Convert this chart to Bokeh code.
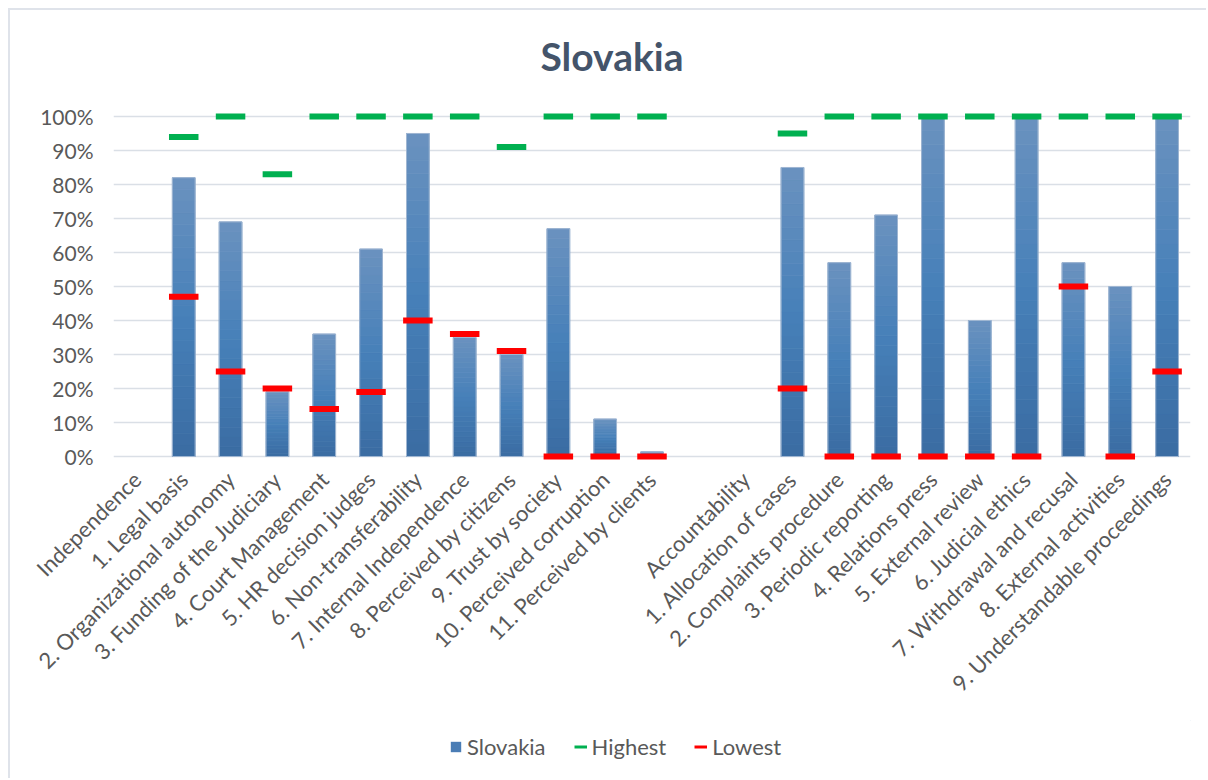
import math
from bokeh.plotting import figure
from bokeh.layouts import column
from bokeh.models import (FactorRange, Range1d, FixedTicker, PrintfTickFormatter,
                          Legend, LegendItem, ColumnDataSource, Label)
from bokeh.embed import file_html
from bokeh.resources import INLINE

title_text = "Slovakia"
categories = ["Independence", "1. Legal basis", "2. Organizational autonomy",
              "3. Funding of the Judiciary", "4. Court Management",
              "5. HR decision judges", "6. Non-transferability",
              "7. Internal Independence", "8. Perceived by citizens",
              "9. Trust by society", "10. Perceived corruption",
              "11. Perceived by clients", " ", "Accountability",
              "1. Allocation of cases", "2. Complaints procedure",
              "3. Periodic reporting", "4. Relations press", "5. External review",
              "6. Judicial ethics", "7. Withdrawal and recusal",
              "8. External activities", "9. Understandable proceedings"]
slovakia = [None, 82, 69, 19, 36, 61, 95, 35, 30, 67, 11, 1.3, None, None,
            85, 57, 71, 100, 40, 100, 57, 50, 100]
highest = [None, 94, 100, 83, 100, 100, 100, 100, 91, 100, 100, 100, None, None,
           95, 100, 100, 100, 100, 100, 100, 100, 100]
lowest = [None, 47, 25, 20, 14, 19, 40, 36, 31, 0, 0, 0, None, None,
          20, 0, 0, 0, 0, 0, 50, 0, 25]
y_ticks = [0, 10, 20, 30, 40, 50, 60, 70, 80, 90, 100]

FONT = "Lato"
TEXT = "#595959"
GREEN = "#00b050"
RED = "#ff0000"
W = 1196


def hex2rgb(h):
    h = h.lstrip("#")
    return [int(h[i:i + 2], 16) for i in (0, 2, 4)]


def lerp(c1, c2, t):
    a, b = hex2rgb(c1), hex2rgb(c2)
    return "#%02x%02x%02x" % tuple(int(round(a[i] + (b[i] - a[i]) * t)) for i in range(3))


def grad(t):
    # t=0 bottom (dark), t=1 top (light)
    if t < 0.5:
        return lerp("#3a6ca2", "#4780b9", t / 0.5)
    return lerp("#4780b9", "#6a92bf", (t - 0.5) / 0.5)


def strip(h):
    f = figure(width=W, height=h, output_backend="svg", toolbar_location=None,
               x_range=Range1d(0, 1), y_range=Range1d(0, 1), min_border=0)
    f.axis.visible = False
    f.grid.grid_line_color = None
    f.outline_line_color = None
    return f


# title strip (its frame aligns with the chart frame)
tf = strip(82)
tf.add_layout(Label(x=427, y=37, x_units="screen", y_units="screen",
                    text=title_text, text_font=FONT, text_font_style="bold",
                    text_font_size="39px", text_color="#44546a",
                    text_baseline="middle"))

p = figure(x_range=FactorRange(factors=categories, range_padding=0),
           y_range=Range1d(-1.47, 101.47),
           width=W, height=628, output_backend="svg", toolbar_location=None,
           min_border_left=103, min_border_right=16, min_border_top=19,
           min_border_bottom=259)
p.outline_line_color = None
p.background_fill_color = "white"
p.border_fill_color = "white"

# gradient bars built from the slovakia values
N = 24
xs, bots, tops, cols = [], [], [], []
bx, bt = [], []
for c, v in zip(categories, slovakia):
    if v is None:
        continue
    bx.append(c)
    bt.append(v)
    for i in range(N):
        xs.append(c)
        bots.append(v * i / N)
        tops.append(v * (i + 1) / N)
        cols.append(grad((i + 0.5) / N))
src = ColumnDataSource(dict(x=xs, bottom=bots, top=tops, color=cols))
p.vbar(x="x", bottom="bottom", top="top", width=0.485, source=src,
       fill_color="color", line_color="color", line_width=0.8)
p.vbar(x=bx, top=bt, width=0.485, fill_color=None, line_color="#9fb6d2", line_width=1)

hx = [c for c, v in zip(categories, highest) if v is not None]
hy = [v for v in highest if v is not None]
lx = [c for c, v in zip(categories, lowest) if v is not None]
ly = [v for v in lowest if v is not None]
p.rect(x=hx, y=hy, width=0.63, height=6, height_units="screen",
       fill_color=GREEN, line_color=None)
p.rect(x=lx, y=ly, width=0.63, height=6, height_units="screen",
       fill_color=RED, line_color=None)

p.xgrid.grid_line_color = None
p.ygrid.grid_line_color = "#dadfe6"
p.ygrid.grid_line_width = 1.5
p.yaxis.ticker = FixedTicker(ticks=y_ticks)
p.yaxis.formatter = PrintfTickFormatter(format="%d%%")
for ax in (p.xaxis, p.yaxis):
    ax.axis_line_color = None
    ax.major_tick_line_color = None
    ax.minor_tick_line_color = None
    ax.major_tick_out = 0
    ax.major_tick_in = 0
    ax.minor_tick_out = 0
    ax.major_label_text_font = FONT
    ax.major_label_text_font_size = "22px"
    ax.major_label_text_color = TEXT
p.yaxis.major_label_text_font_size = "21px"
p.yaxis.major_label_standoff = 20
p.xaxis.major_label_orientation = math.pi / 4
p.xaxis.major_label_standoff = 14

# legend strip below the chart
lg = strip(58)
off = dict(x=[5, 6], y=[5, 5])   # legend-only renderers, outside the visible range
leg_bar = lg.vbar(x=[5], top=[6], bottom=[5], width=0.5,
                  fill_color="#4a7db5", line_color=None)
leg_hi = lg.line(x=off["x"], y=off["y"], line_color=GREEN, line_width=3)
leg_lo = lg.line(x=off["x"], y=off["y"], line_color=RED, line_width=3)
legend = Legend(items=[LegendItem(label="Slovakia", renderers=[leg_bar]),
                       LegendItem(label="Highest", renderers=[leg_hi]),
                       LegendItem(label="Lowest", renderers=[leg_lo])],
                orientation="horizontal", location=(336, 18),
                glyph_width=13, glyph_height=13, label_standoff=5, spacing=28,
                padding=0, margin=0, border_line_color=None,
                background_fill_alpha=0,
                label_text_font=FONT, label_text_font_size="22px",
                label_text_color=TEXT)
lg.add_layout(legend)

layout = column(tf, p, lg, spacing=0,
                styles={"margin-left": "8px", "margin-top": "8px",
                        "border-left": "2px solid #dfe3ea",
                        "border-top": "2px solid #dfe3ea"})

open("out.html", "w").write(file_html(layout, INLINE))
